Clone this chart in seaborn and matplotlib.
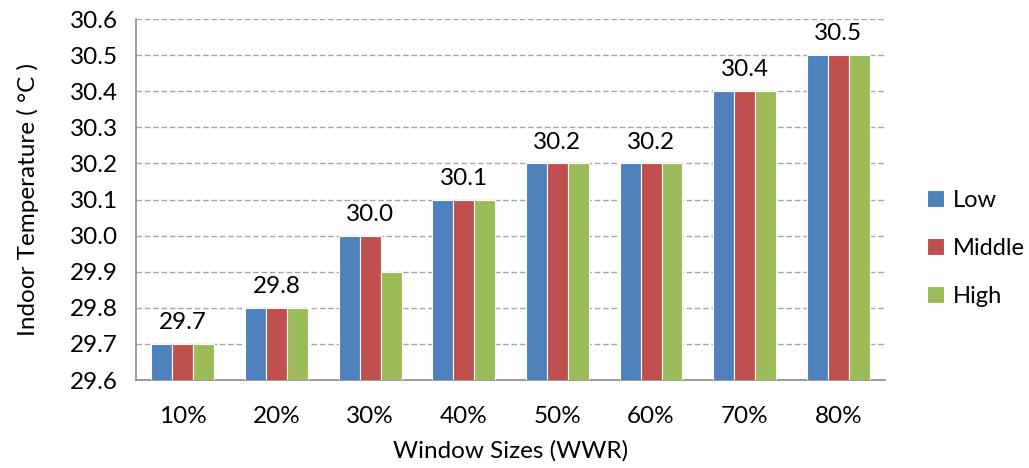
import matplotlib
matplotlib.use("Agg")
import matplotlib.pyplot as plt
import seaborn as sns
import pandas as pd

# Window-to-wall ratio categories and indoor temperature (°C) per glazing level
categories = ["10%", "20%", "30%", "40%", "50%", "60%", "70%", "80%"]
low = [29.7, 29.8, 30.0, 30.1, 30.2, 30.2, 30.4, 30.5]
middle = [29.7, 29.8, 30.0, 30.1, 30.2, 30.2, 30.4, 30.5]
high = [29.7, 29.8, 29.9, 30.1, 30.2, 30.2, 30.4, 30.5]
levels = ["Low", "Middle", "High"]
colors = ["#4F81BD", "#C0504D", "#9BBB59"]

df = pd.DataFrame({
    "WWR": categories * 3,
    "Level": [levels[0]] * 8 + [levels[1]] * 8 + [levels[2]] * 8,
    "Temp": low + middle + high,
})

sns.set_style("white")
plt.rcParams["font.family"] = ["Lato", "DejaVu Sans"]
plt.rcParams["text.color"] = "black"
plt.rcParams["axes.labelcolor"] = "black"

fig = plt.figure(figsize=(10.29, 4.68), dpi=100)
ax = fig.add_axes([0.1322, 0.188, 0.728, 0.7714])

sns.barplot(data=df, x="WWR", y="Temp", hue="Level", palette=colors,
            saturation=1, width=0.67, edgecolor="white", linewidth=0.8, ax=ax,
            errorbar=None, zorder=3)

ax.set_ylim(29.6, 30.6)
ax.set_xlim(-0.5, len(categories) - 0.5)
ax.set_yticks([29.6 + 0.1 * i for i in range(11)])
ax.set_yticklabels([f"{29.6 + 0.1 * i:.1f}" for i in range(11)])

# Dashed horizontal gridlines
ax.yaxis.grid(True, linestyle=(0, (4, 2)), color="#A6A6A6", linewidth=1.0, zorder=0)
ax.set_axisbelow(True)

# Category boundary ticks on the x axis
ax.set_xticks(range(len(categories)))
ax.set_xticklabels(categories)
ax.tick_params(axis="x", length=0, labelsize=17.5, pad=19, labelcolor="black")
ax.set_xticks([i - 0.5 for i in range(len(categories) + 1)], minor=True)
ax.tick_params(axis="x", which="minor", length=8, width=1.2, color="#8C8C8C", direction="out")
ax.tick_params(axis="y", length=8, width=1.2, color="#8C8C8C", labelsize=17.5, pad=5,
               direction="out", labelcolor="black")

for side in ["top", "right"]:
    ax.spines[side].set_visible(False)
for side in ["left", "bottom"]:
    ax.spines[side].set_color("#8C8C8C")
    ax.spines[side].set_linewidth(1.2)

# Value label above each group (Low level value)
for i, v in enumerate(low):
    ax.text(i, v + 0.03, f"{v:.1f}", ha="center", va="bottom", fontsize=17.5,
            color="black")

ax.set_xlabel("Window Sizes (WWR)", fontsize=17.5, labelpad=9)
ax.set_ylabel("Indoor Temperature ( °C )", fontsize=17.5, labelpad=22)

handles, labels = ax.get_legend_handles_labels()
ax.legend(handles, labels, loc="center left", bbox_to_anchor=(1.027, 0.365),
          frameon=False, fontsize=17, handlelength=0.75, handleheight=0.75,
          handletextpad=0.35, labelspacing=1.15)

fig.savefig("out.png", dpi=100)
